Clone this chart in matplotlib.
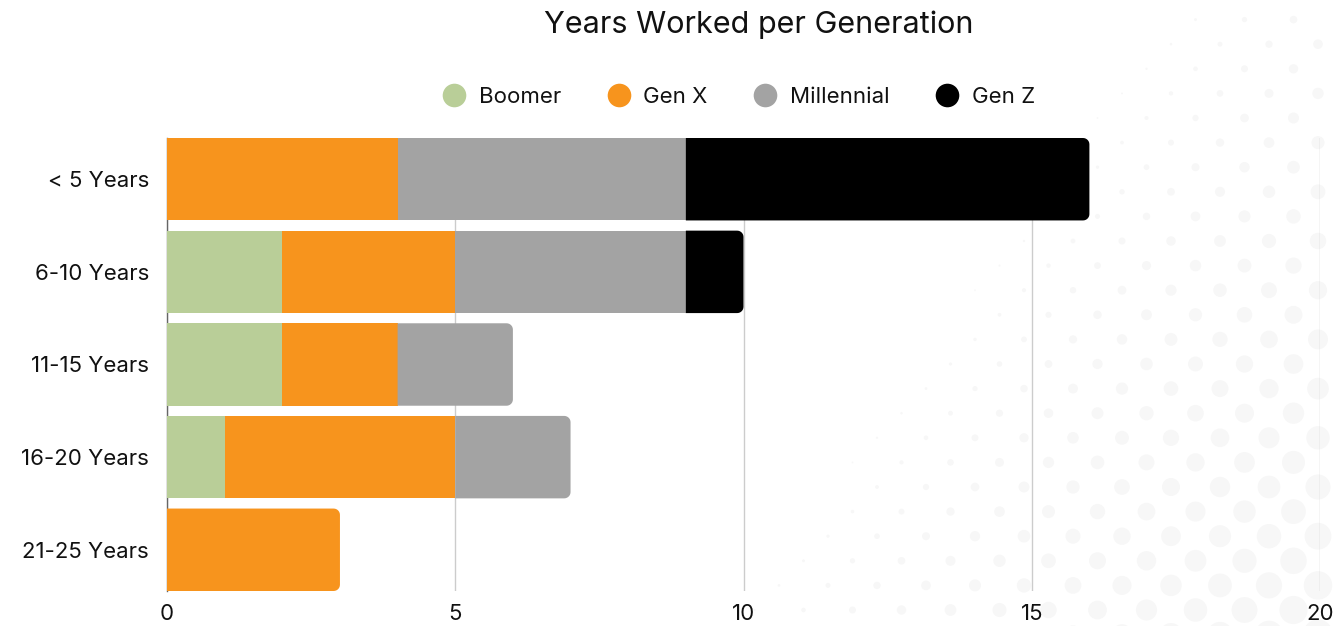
import numpy as np
from matplotlib import pyplot as plt
from matplotlib.patches import PathPatch
from matplotlib.path import Path
from matplotlib.lines import Line2D

plt.rcParams['font.family'] = ['Inter', 'DejaVu Sans']

categories = ['< 5 Years', '6-10 Years', '11-15 Years', '16-20 Years', '21-25 Years']
series = ['Boomer', 'Gen X', 'Millennial', 'Gen Z']
boomer = [0, 2, 2, 1, 0]
gen_x = [4, 3, 2, 4, 3]
millennial = [5, 4, 2, 2, 0]
gen_z = [7, 1, 0, 0, 0]
colors = ['#b9ce98', '#f7941d', '#a3a3a3', '#000000']
xticks = [0, 5, 10, 15, 20]


def seg_path(x0, w, yc, h, rx=0.0, ry=0.0):
    # rectangle with (optionally) rounded right-hand corners
    x1, y0, y1 = x0 + w, yc - h / 2, yc + h / 2
    pts = [(x0, y0)]
    if rx > 0:
        t = np.linspace(-np.pi / 2, 0, 8)
        pts += list(zip(x1 - rx + rx * np.cos(t), y0 + ry + ry * np.sin(t)))
        t = np.linspace(0, np.pi / 2, 8)
        pts += list(zip(x1 - rx + rx * np.cos(t), y1 - ry + ry * np.sin(t)))
    else:
        pts += [(x1, y0), (x1, y1)]
    pts += [(x0, y1), (x0, y0)]
    return Path(pts, closed=True)


fig = plt.figure(figsize=(13.39, 6.26), dpi=100)

# faint halftone dots in the background (decoration)
bg = fig.add_axes([0, 0, 1, 1], zorder=0)
bg.set_xlim(0, 1339); bg.set_ylim(626, 0); bg.axis('off')
dx, dy = 49, 24.6
for i, yy in enumerate(np.arange(-5, 640, dy)):
    off = 0 if i % 2 == 0 else dx / 2
    xs = np.arange(1318 - off, 700, -dx)
    r = 11 + 0.024 * (xs - 1272) + 0.0174 * (yy - 463)
    keep = r > 0.8
    bg.scatter(xs[keep], np.full(keep.sum(), yy), s=(2 * r[keep] * 0.72) ** 2,
               color='#f7f7f7', linewidths=0)

ax = fig.add_axes([167 / 1339, 1 - 591 / 626, 1153 / 1339, 453 / 626], zorder=1)
ax.patch.set_alpha(0)

h = 0.89
y = np.arange(len(categories))
data = [boomer, gen_x, millennial, gen_z]
left = np.zeros(len(categories))
last = [max(j for j in range(4) if data[j][i] > 0) for i in range(len(categories))]
rx, ry = 0.11, 0.068
for j, vals in enumerate(data):
    vals = np.array(vals, dtype=float)
    for i in range(len(categories)):
        if vals[i] <= 0:
            continue
        rr = (rx, ry) if j == last[i] else (0, 0)
        ax.add_patch(PathPatch(seg_path(left[i], vals[i], y[i], h, *rr),
                               facecolor=colors[j], edgecolor='none', zorder=3))
    left += vals

ax.set_xlim(0, 20)
ax.set_ylim(len(categories) - 1 + h / 2, -h / 2)
ax.set_xticks(xticks)
ax.set_yticks(y)
ax.set_yticklabels(categories)
ax.tick_params(axis='x', length=0, pad=9, labelsize=16, labelcolor='#111111')
ax.tick_params(axis='y', length=0, pad=13, labelsize=16, labelcolor='#111111')
ax.grid(axis='x', color='#cccccc', linewidth=1, zorder=0)
for s in ['top', 'right', 'bottom']:
    ax.spines[s].set_visible(False)
ax.spines['left'].set_color('#666666')
ax.spines['left'].set_linewidth(1)
ax.spines['left'].set_zorder(2)

fig.text(759 / 1339, 1 - 25 / 626, 'Years Worked per Generation', ha='center', va='center',
         fontsize=22, color='#111111')

handles = [Line2D([], [], marker='o', linestyle='none', markersize=17,
                  markerfacecolor=c, markeredgecolor='none') for c in colors]
fig.legend(handles, series, loc='center', bbox_to_anchor=(738 / 1339, 1 - 97 / 626),
           ncol=4, frameon=False, fontsize=16, handlelength=1.2, handletextpad=0.5,
           columnspacing=2.0, labelcolor='#111111')

fig.savefig('out.png', dpi=100)
